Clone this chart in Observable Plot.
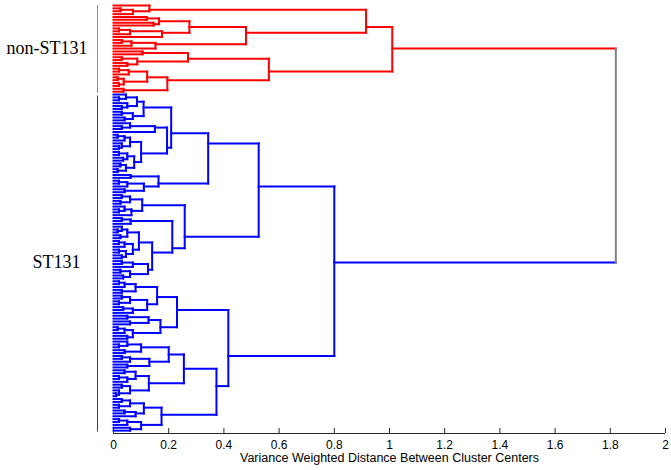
<!DOCTYPE html>
<html><head><meta charset="utf-8">
<script src="https://cdn.jsdelivr.net/npm/d3@7"></script>
<script src="https://cdn.jsdelivr.net/npm/@observablehq/plot@0.6"></script>
<style>body{margin:0;background:#fff;}</style>
</head><body><div id="chart"></div>
<script>
// ---- data ----
const clusterNames = ["non-ST131", "ST131"];
const clusterColors = ["#ff0000", "#0000ff"];
const rootColor = "#808080";
const xTicks = [0, 0.2, 0.4, 0.6, 0.8, 1, 1.2, 1.4, 1.6, 1.8, 2];
const xLabel = "Variance Weighted Distance Between Cluster Centers";
const rootHeight = 1.82;
const clusterHeights = [1.01, 0.80];
const blueSubHeights = [0.526, 0.416];

// subtrees: [mergeHeight, left, right], 0 = leaf
const redA = [0.915,
  [0.13, 0, [0.07, [0.025, 0, 0], 0]],
  [0.48,
    [0.275,
      [0.165, [0.12, 0, 0], [0.145, 0, 0]],
      [0.176, [0.06, [0.02, 0, 0], 0], 0]],
    [0.152, [0.065, [0.03, 0, 0], 0], 0]]];
const redB = [0.563,
  [0.27, [0.105, 0, 0], [0.086, [0.03, 0, 0], [0.05, 0, 0]]],
  [0.195,
    [0.122, [0.055, [0.02, 0, 0], 0], [0.037, [0.015, 0, 0], [0.02, 0, 0]]],
    [0.036, 0, 0]]];
const blueC1 = [0.343,
  [0.209,
    [0.109,
      [0.085, [0.045, 0, [0.02, 0, 0]], [0.05, 0, [0.03, 0, 0]]],
      [0.07, [0.03, 0, 0], [0.04, 0, 0]]],
    [0.194,
      [0.15, [0.06, 0, [0.03, 0, 0]], 0],
      [0.10,
        [0.06, [0.04, [0.015, 0, 0], 0], [0.03, 0, [0.02, 0, 0]]],
        [0.075, [0.05, [0.02, 0, 0], [0.035, 0, 0]], [0.045, [0.025, 0, 0], [0.015, 0, 0]]]]]],
  [0.163,
    [0.062, 0, 0],
    [0.11, [0.05, [0.02, 0, 0], 0], [0.04, 0, 0]]]];
const blueC2 = [0.258,
  [0.104, [0.06, [0.03, 0, 0], [0.025, 0, 0]], [0.065, [0.04, 0, [0.02, 0, 0]], 0]],
  [0.213,
    [0.062, [0.03, 0, 0], 0],
    [0.14,
      [0.092, [0.05, [0.03, 0, [0.015, 0, 0]], [0.025, 0, 0]], [0.07, [0.04, [0.02, 0, 0], 0], [0.045, [0.02, 0, 0], [0.03, 0, 0]]]],
      [0.125, [0.07, [0.03, 0, 0], 0], [0.06, [0.025, 0, 0], [0.035, 0, 0]]]]]];
const blueH1 = [0.23,
  [0.158,
    [0.08, [0.04, [0.02, 0, 0], 0], [0.03, 0, 0]],
    [0.122, [0.06, [0.03, 0, 0], [0.02, 0, 0]], [0.07, [0.035, 0, 0], 0]]],
  [0.17,
    [0.127, [0.05, 0, 0], [0.06, 0, 0]],
    [0.07, [0.04, [0.015, 0, 0], 0], [0.05, 0, 0]]]];
const blueH2 = [0.373,
  [0.255,
    [0.2, [0.1, [0.05, 0, [0.02, 0, 0]], [0.04, 0, 0]], [0.13, [0.06, [0.03, 0, 0], 0], [0.05, 0, 0]]],
    [0.128, [0.08, [0.04, 0, 0], [0.05, [0.02, 0, 0], 0]], [0.06, [0.03, 0, 0], [0.02, 0, [0.01, 0, 0]]]]],
  [0.174,
    [0.11, [0.06, [0.03, 0, 0], [0.02, 0, 0]], [0.08, [0.04, 0, 0], 0]],
    [0.1, [0.05, [0.02, 0, 0], 0], [0.06, 0, 0]]]];

// ---- layout (node position = mean of its leaves) ----
let next = 0;
const segments = [];
function place(node, color) {
  if (!Array.isArray(node)) { const i = next++; return {h: 0, y: i, n: 1, color, first: i, last: i}; }
  const [h, left, right] = node;
  const a = place(left, color), b = place(right, color);
  segments.push({x1: a.h, x2: h, y1: a.y, y2: a.y, stroke: a.color});
  segments.push({x1: b.h, x2: h, y1: b.y, y2: b.y, stroke: b.color});
  segments.push({x1: h, x2: h, y1: a.y, y2: b.y, stroke: color});
  const n = a.n + b.n;
  return {h, y: (a.y * a.n + b.y * b.n) / n, n, color, first: a.first, last: b.last};
}
const red = place([clusterHeights[0], redA, redB], clusterColors[0]);
const blue = place([clusterHeights[1], [blueSubHeights[0], blueC1, blueC2], [blueSubHeights[1], blueH1, blueH2]], clusterColors[1]);
segments.push({x1: red.h, x2: rootHeight, y1: red.y, y2: red.y, stroke: red.color});
segments.push({x1: blue.h, x2: rootHeight, y1: blue.y, y2: blue.y, stroke: blue.color});
segments.push({x1: rootHeight, x2: rootHeight, y1: red.y, y2: blue.y, stroke: rootColor});
const N = next;
const clusters = [
  {name: clusterNames[0], y: red.y, y1: red.first, y2: red.last + 0.5},
  {name: clusterNames[1], y: blue.y, y1: blue.first + 0.5, y2: blue.last + 0.5}
];

const chart = Plot.plot({
  width: 671, height: 470,
  marginLeft: 113, marginRight: 6, marginTop: 5, marginBottom: 37,
  x: {domain: [0, 2]},
  y: {domain: [0, N], reverse: true, axis: null},
  color: {type: "identity"},
  style: {fontFamily: "'Liberation Sans', Arial, sans-serif", fontSize: "12px", color: "#000", background: "#fff"},
  marks: [
    Plot.ruleY([N], {stroke: "#262626", strokeWidth: 1}),
    Plot.axisX({ticks: xTicks, tickSize: -5, fill: "none", stroke: "#262626", label: null}),
    Plot.axisX({ticks: xTicks, tickSize: 0, tickPadding: 7, tickFormat: d => String(d), label: null, fontSize: 12, fill: "#000"}),
    Plot.text([xLabel], {frameAnchor: "bottom", dy: 28, text: d => d, fontSize: 12.5, fill: "#000"}),
    Plot.link(segments, {x1: "x1", y1: "y1", x2: "x2", y2: "y2", stroke: "stroke", strokeWidth: 2, strokeLinecap: "square"}),
    Plot.ruleX([clusters[0]], {x: 0, dx: -16, y1: "y1", y2: "y2", stroke: "#8c8c8c", strokeWidth: 1}),
    Plot.ruleX([clusters[1]], {x: 0, dx: -16, y1: "y1", y2: "y2", stroke: "#404040", strokeWidth: 1}),
    Plot.text([clusters[0]], {x: 0, y: "y", text: "name", dx: -26, textAnchor: "end", fontFamily: "'Liberation Serif', 'Times New Roman', serif", fontSize: 18, fill: "#000"}),
    Plot.text([clusters[1]], {x: 0, y: "y", text: "name", dx: -33, textAnchor: "end", fontFamily: "'Liberation Serif', 'Times New Roman', serif", fontSize: 18, fill: "#000"})
  ]
});
document.getElementById("chart").appendChild(chart);
</script>
</body></html>
